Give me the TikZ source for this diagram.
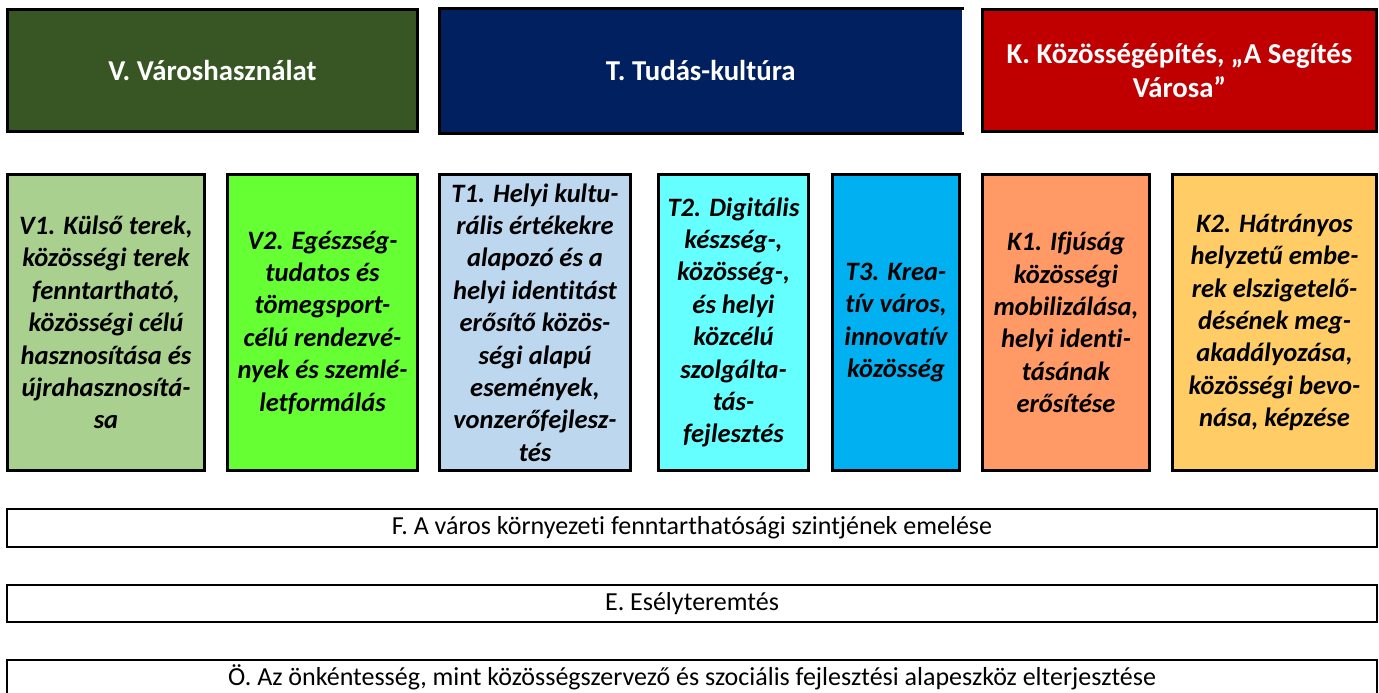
\documentclass[tikz,border=0pt]{standalone}
\usepackage{fontspec}
\setmainfont{Carlito}[Ligatures={NoCommon}]
\definecolor{cV}{HTML}{375623}
\definecolor{cT}{HTML}{002060}
\definecolor{cK}{HTML}{C00000}
\definecolor{cVa}{HTML}{A9D08E}
\definecolor{cVb}{HTML}{66FF33}
\definecolor{cTa}{HTML}{BDD7EE}
\definecolor{cTb}{HTML}{66FFFF}
\definecolor{cTc}{HTML}{00B0F0}
\definecolor{cKa}{HTML}{FF9966}
\definecolor{cKb}{HTML}{FFCC66}
\tikzset{
  headbox/.style={draw=black, line width=2.25pt, inner sep=0pt, align=center, text=white,
    font=\fontsize{21.6}{26}\selectfont\bfseries, minimum height=122*0.75pt},
  subbox/.style={draw=black, line width=2.25pt, inner sep=0pt, align=center, text=black,
    font=\fontsize{19.9}{24.3}\selectfont\bfseries\itshape, minimum height=296*0.75pt},
  barbox/.style={draw=black, line width=1.5pt, inner sep=0pt, align=center, text=black,
    font=\fontsize{19.5}{24}\selectfont, minimum width=1370*0.75pt}
}
\begin{document}
\begin{tikzpicture}[x=0.75pt, y=-0.75pt]
\clip (0,0) rectangle (1379,693);
\fill[white] (0,0) rectangle (1379,693);
% header row
\node[headbox, fill=cV, minimum width=410*0.75pt] (V) at (212.5,70.5) {V. Városhasználat};
\node[headbox, draw=none, fill=cT, minimum width=522.5*0.75pt, minimum height=125*0.75pt] (T) at (700.75,70.5) {T. Tudás-kultúra};
\draw[line width=2.25pt] ([yshift=-1.125pt]T.north east) -- ([xshift=1.125pt,yshift=-1.125pt]T.north west) -- ([xshift=1.125pt,yshift=1.125pt]T.south west) -- ([yshift=1.125pt]T.south east);
\node[headbox, fill=cK, minimum width=394*0.75pt] (K) at (1179.5,70.5) {K. Közösségépítés, „A Segítés\\Városa”};
% second row
\node[subbox, fill=cVa, minimum width=197*0.75pt] (V1) at (106,322.5) {V1. Külső terek,\\közösségi terek\\fenntartható,\\közösségi célú\\hasznosítása és\\újrahasznosítá-\\sa};
\node[subbox, fill=cVb, minimum width=190*0.75pt] (V2) at (322.5,322.5) {V2. Egészség-\\tudatos és\\tömegsport-\\célú rendezvé-\\nyek és szemlé-\\letformálás};
\node[subbox, fill=cTa, minimum width=191*0.75pt] (T1) at (535,322.5) {T1. Helyi kultu-\\rális értékekre\\alapozó és a\\helyi identitást\\erősítő közös-\\ségi alapú\\események,\\vonzerőfejlesz-\\tés};
\node[subbox, fill=cTb, minimum width=150*0.75pt] (T2) at (733.5,322.5) {T2. Digitális\\készség-,\\közösség-,\\és helyi\\közcélú\\szolgálta-\\tás-\\fejlesztés};
\node[subbox, fill=cTc, minimum width=127*0.75pt] (T3) at (896,322.5) {T3. Krea-\\tív város,\\innovatív\\közösség};
\node[subbox, fill=cKa, minimum width=167*0.75pt] (K1) at (1066,322.5) {K1. Ifjúság\\közösségi\\mobilizálása,\\helyi identi-\\tásának\\erősítése};
\node[subbox, fill=cKb, minimum width=204*0.75pt] (K2) at (1274.5,322.5) {K2. Hátrányos\\helyzetű embe-\\rek elszigetelő-\\désének meg-\\akadályozása,\\közösségi bevo-\\nása, képzése};
% bars
\node[barbox, minimum height=38*0.75pt] (F) at (692,528) {F. A város környezeti fenntarthatósági szintjének emelése};
\node[barbox, minimum height=37*0.75pt] (E) at (692,603.5) {E. Esélyteremtés};
\node[barbox, minimum height=60*0.75pt] (O) at (692,690) {};
\node[font=\fontsize{19.5}{24}\selectfont, inner sep=0pt] (Otext) at (692,677) {Ö. Az önkéntesség, mint közösségszervező és szociális fejlesztési alapeszköz elterjesztése};
\end{tikzpicture}
\end{document}
